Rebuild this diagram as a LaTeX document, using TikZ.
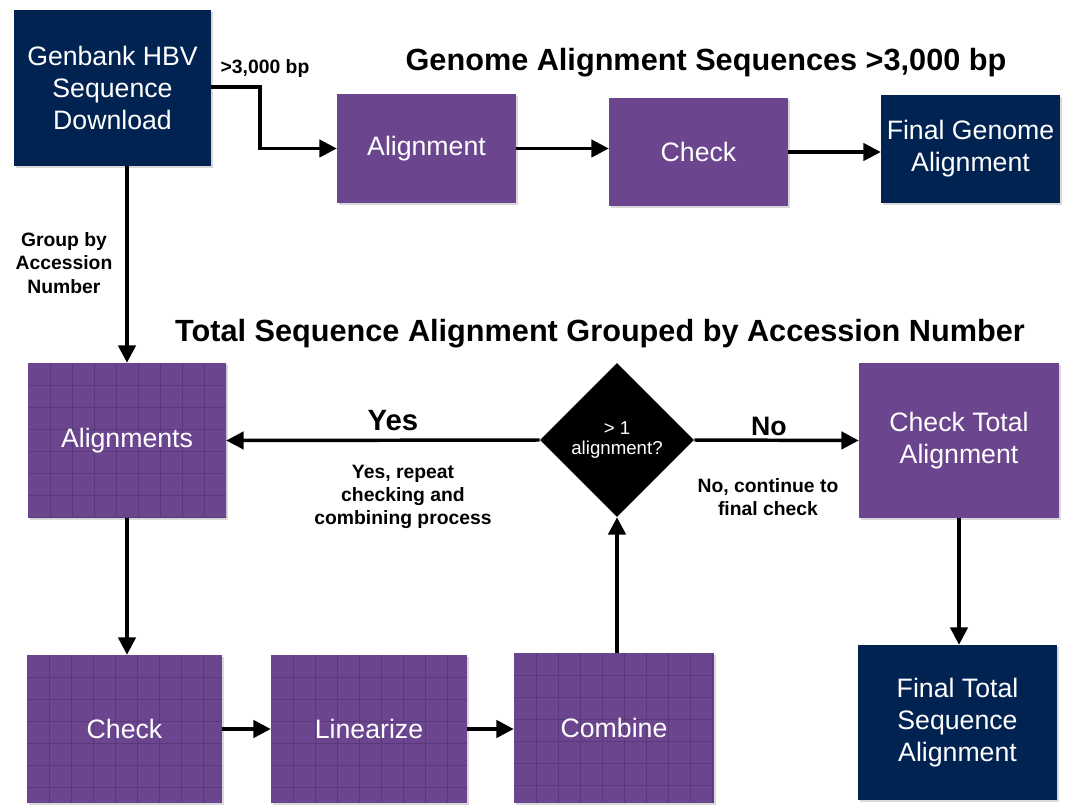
\documentclass[tikz,border=0pt]{standalone}
\usepackage{fontspec}
\setmainfont{Liberation Sans}
\usetikzlibrary{arrows.meta,shapes.geometric,shadows}
\definecolor{navy}{RGB}{0,35,82}
\definecolor{plum}{RGB}{107,70,143}
\definecolor{plumline}{RGB}{90,56,124}
\begin{document}
\begin{tikzpicture}[
        x=0.75pt, y=-0.75pt,
        every node/.style={text centered, align=center},
        boxn/.style={rectangle, inner sep=0pt, text=white, font=\fontsize{20}{24}\selectfont,
            drop shadow={shadow xshift=1.2pt, shadow yshift=-1.2pt, opacity=0.3}},
        navyn/.style={boxn, fill=navy},
        purplen/.style={boxn, fill=plum},
        gridline/.style={draw=plumline, line width=0.6pt},
        gridn/.style={purplen, path picture={
            \foreach \i in {1,...,9}
                \draw[gridline] ([xshift=\i*16.5pt]path picture bounding box.north west)
                    -- ([xshift=\i*16.5pt]path picture bounding box.south west);
            \foreach \j in {1,...,7}
                \draw[gridline] ([yshift=-\j*16.5pt]path picture bounding box.north west)
                    -- ([yshift=-\j*16.5pt]path picture bounding box.north east);}},
        decision/.style={diamond, fill=black, inner sep=0pt, minimum size=115.5pt,
            text=white, font=\fontsize{14}{15}\selectfont},
        lbl/.style={font=\bfseries\fontsize{14.5}{17.5}\selectfont},
        title/.style={font=\bfseries\fontsize{23}{27}\selectfont},
        arr/.style={draw, line width=2.6pt, -{Triangle[length=13pt, width=13pt]}},
    ]
    \useasboundingbox (0,0) rectangle (1070,804);
    % genome branch
    \node[navyn, minimum width=147.75pt, minimum height=117pt] (gen) at (112.5,88) {Genbank HBV\\Sequence\\Download};
    \node[purplen, minimum width=134.25pt, minimum height=81.75pt] (algn) at (426.5,148.5) {Alignment};
    \node[purplen, minimum width=134.25pt, minimum height=81pt] (chka) at (698.5,152) {Check};
    \node[navyn, minimum width=134.25pt, minimum height=81pt] (fing) at (970.5,149) {Final Genome\\Alignment};
    \node[title] (tga) at (706,63) {Genome Alignment Sequences >3,000 bp};
    \node[lbl] (bp) at (265,68) {>3,000 bp};
    \coordinate (bend) at (260,87);
    \draw[arr] (gen.east |- bend) -- (bend) |- (algn.west);
    \draw[arr] (algn.east) -- (algn.east -| chka.west);
    \draw[arr] (chka.east) -- (chka.east -| fing.west);
    % total sequence branch
    \node[title] (tts) at (600,334) {Total Sequence Alignment Grouped by Accession Number};
    \node[gridn, minimum width=148.5pt, minimum height=116.25pt] (alns) at (127,440.5) {Alignments};
    \node[decision] (dec) at (617,440) {> 1\\alignment?};
    \node[purplen, minimum width=150pt, minimum height=116.25pt] (chkt) at (959,440.5) {Check Total\\Alignment};
    \node[navyn, minimum width=149.25pt, minimum height=116.25pt] (fint) at (957.5,722.5) {Final Total\\Sequence\\Alignment};
    \node[gridn, minimum width=146.25pt, minimum height=111pt] (chkb) at (124.5,729) {Check};
    \node[gridn, minimum width=147pt, minimum height=111pt] (lin) at (369,729) {Linearize};
    \node[gridn, minimum width=150pt, minimum height=112.5pt] (comb) at (614,728) {Combine};
    \node[lbl] (grp) at (64,263) {Group by\\Accession\\Number};
    \node[font=\bfseries\fontsize{22}{26}\selectfont] (yes) at (393,421) {Yes};
    \node[font=\bfseries\fontsize{20}{24}\selectfont] (no) at (769,426) {No};
    \node[lbl] (rep) at (403,497) {Yes, repeat\\checking and\\combining process};
    \node[lbl] (cont) at (768,497) {No, continue to\\final check};
    \draw[arr] (alns.north |- gen.south) -- (alns.north);
    \draw[arr] (dec.west) -- (alns.east);
    \draw[arr] (dec.east) -- (chkt.west);
    \draw[arr] (chkt.south) -- (chkt.south |- fint.north);
    \draw[arr] (alns.south) -- (alns.south |- chkb.north);
    \draw[arr] (chkb.east) -- (lin.west);
    \draw[arr] (lin.east) -- (lin.east -| comb.west);
    \draw[arr] (dec.south |- comb.north) -- (dec.south);
\end{tikzpicture}
\end{document}
